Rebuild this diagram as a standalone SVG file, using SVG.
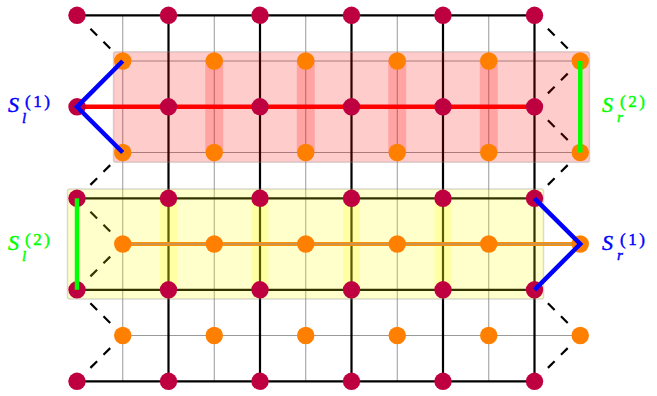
<svg xmlns="http://www.w3.org/2000/svg" width="657" height="396" viewBox="0 0 657 396">
<style>
.blk{stroke:#000;stroke-width:2.2;fill:none}
.gry{stroke:#999;stroke-width:1;fill:none}
.dsh{stroke:#000;stroke-width:2.2;stroke-dasharray:9.5 9;fill:none}
.box{stroke:#888;stroke-opacity:0.3;stroke-width:1.5}
.pink{fill:#f00;fill-opacity:0.2}
.yel{fill:#ff0;fill-opacity:0.2}
.cr{fill:#BF0040}
.or{fill:#FF8000}
.bl{fill:#00f;stroke:#00f;stroke-width:0.45}
.gr{fill:#0f0;stroke:#0f0;stroke-width:0.45}
</style>
<rect width="657" height="396" fill="#fff"/>
<g id="connectors">
<g id="grid-gray">
<path class="gry" d="M122.75 61H580.25M122.75 152.5H580.25M122.75 244H580.25M122.75 335.5H580.25"/>
<path class="gry" d="M122.75 15.3V381.3M214.25 15.3V381.3M305.75 15.3V381.3M397.25 15.3V381.3M488.75 15.3V381.3"/>
</g>
<g id="grid-black">
<path class="blk" d="M77 15.3H534.5M77 106.8H534.5M77 198.3H534.5M77 289.8H534.5M77 381.3H534.5"/>
<path class="blk" d="M168.5 15.3V381.3M260 15.3V381.3M351.5 15.3V381.3M443 15.3V381.3M534.5 15.3V381.3"/>
</g>
<g id="dashed">
<path class="dsh" d="M90.4 28.7L110.2 48.5M90.4 184.9L110.2 165.1M90.4 211.7L110.2 231.5M90.4 276.4L110.2 256.6M90.4 303.2L110.2 323M90.4 367.9L110.2 348.1"/>
<path class="dsh" d="M547.9 28.7L567.7 48.5M547.9 93.4L567.7 73.6M547.9 120.2L567.7 140M547.9 184.9L567.7 165.1M547.9 303.2L567.7 323M547.9 367.9L567.7 348.1"/>
</g>
</g>
<g id="region-top">
<rect class="pink box" x="113.5" y="51.7" width="476" height="110.5" rx="2"/>
<rect class="pink" x="205.25" y="61" width="18" height="91.5"/>
<rect class="pink" x="296.75" y="61" width="18" height="91.5"/>
<rect class="pink" x="388.25" y="61" width="18" height="91.5"/>
<rect class="pink" x="479.75" y="61" width="18" height="91.5"/>
</g>
<g id="region-bottom">
<rect class="yel box" x="67.5" y="189" width="476" height="110" rx="2"/>
<rect class="yel" x="160" y="198.3" width="17" height="91.5"/>
<rect class="yel" x="251.5" y="198.3" width="17" height="91.5"/>
<rect class="yel" x="343" y="198.3" width="17" height="91.5"/>
<rect class="yel" x="434.5" y="198.3" width="17" height="91.5"/>
</g>
<g id="paths">
<path d="M77 106.8H534.5" stroke="#f00" stroke-width="4.5" fill="none"/>
<path d="M122.75 244H580.25" stroke="#FF9000" stroke-width="4" fill="none"/>
<path class="gry" d="M122.75 244H580.25"/>
</g>
<g id="nodes-crimson" class="cr">
<circle id="c00" cx="77" cy="15.3" r="8.7"/><circle id="c10" cx="168.5" cy="15.3" r="8.7"/><circle id="c20" cx="260" cy="15.3" r="8.7"/><circle id="c30" cx="351.5" cy="15.3" r="8.7"/><circle id="c40" cx="443" cy="15.3" r="8.7"/><circle id="c50" cx="534.5" cy="15.3" r="8.7"/>
<circle id="c01" cx="77" cy="106.8" r="8.7"/><circle id="c11" cx="168.5" cy="106.8" r="8.7"/><circle id="c21" cx="260" cy="106.8" r="8.7"/><circle id="c31" cx="351.5" cy="106.8" r="8.7"/><circle id="c41" cx="443" cy="106.8" r="8.7"/><circle id="c51" cx="534.5" cy="106.8" r="8.7"/>
<circle id="c02" cx="77" cy="198.3" r="8.7"/><circle id="c12" cx="168.5" cy="198.3" r="8.7"/><circle id="c22" cx="260" cy="198.3" r="8.7"/><circle id="c32" cx="351.5" cy="198.3" r="8.7"/><circle id="c42" cx="443" cy="198.3" r="8.7"/><circle id="c52" cx="534.5" cy="198.3" r="8.7"/>
<circle id="c03" cx="77" cy="289.8" r="8.7"/><circle id="c13" cx="168.5" cy="289.8" r="8.7"/><circle id="c23" cx="260" cy="289.8" r="8.7"/><circle id="c33" cx="351.5" cy="289.8" r="8.7"/><circle id="c43" cx="443" cy="289.8" r="8.7"/><circle id="c53" cx="534.5" cy="289.8" r="8.7"/>
<circle id="c04" cx="77" cy="381.3" r="8.7"/><circle id="c14" cx="168.5" cy="381.3" r="8.7"/><circle id="c24" cx="260" cy="381.3" r="8.7"/><circle id="c34" cx="351.5" cy="381.3" r="8.7"/><circle id="c44" cx="443" cy="381.3" r="8.7"/><circle id="c54" cx="534.5" cy="381.3" r="8.7"/>
</g>
<g id="nodes-orange" class="or">
<circle id="o00" cx="122.75" cy="61" r="8.7"/><circle id="o10" cx="214.25" cy="61" r="8.7"/><circle id="o20" cx="305.75" cy="61" r="8.7"/><circle id="o30" cx="397.25" cy="61" r="8.7"/><circle id="o40" cx="488.75" cy="61" r="8.7"/><circle id="o50" cx="580.25" cy="61" r="8.7"/>
<circle id="o01" cx="122.75" cy="152.5" r="8.7"/><circle id="o11" cx="214.25" cy="152.5" r="8.7"/><circle id="o21" cx="305.75" cy="152.5" r="8.7"/><circle id="o31" cx="397.25" cy="152.5" r="8.7"/><circle id="o41" cx="488.75" cy="152.5" r="8.7"/><circle id="o51" cx="580.25" cy="152.5" r="8.7"/>
<circle id="o02" cx="122.75" cy="244" r="8.7"/><circle id="o12" cx="214.25" cy="244" r="8.7"/><circle id="o22" cx="305.75" cy="244" r="8.7"/><circle id="o32" cx="397.25" cy="244" r="8.7"/><circle id="o42" cx="488.75" cy="244" r="8.7"/><circle id="o52" cx="580.25" cy="244" r="8.7"/>
<circle id="o03" cx="122.75" cy="335.5" r="8.7"/><circle id="o13" cx="214.25" cy="335.5" r="8.7"/><circle id="o23" cx="305.75" cy="335.5" r="8.7"/><circle id="o33" cx="397.25" cy="335.5" r="8.7"/><circle id="o43" cx="488.75" cy="335.5" r="8.7"/><circle id="o53" cx="580.25" cy="335.5" r="8.7"/>
</g>
<g id="cuts" fill="none" stroke-width="4.5">
<path d="M122.75 61L77 106.8L122.75 152.5" stroke="#00f"/>
<path d="M534.5 198.3L580.25 244L534.5 289.8" stroke="#00f"/>
<path d="M580.25 61V152.5" stroke="#0f0"/>
<path d="M77 198.3V289.8" stroke="#0f0"/>
</g>
<g id="labels" font-family="'Liberation Serif', 'DejaVu Serif', serif">
<text id="Sl1-S" class="bl" x="8" y="112" font-style="italic" font-size="22">S</text>
<text id="Sl1-sub" class="bl" x="22" y="123" font-style="italic" font-size="15">l</text>
<text id="Sl1-sup" class="bl" x="25" y="107" font-size="17" textLength="25" lengthAdjust="spacing">(1)</text>
<text id="Sr2-S" class="gr" x="602" y="112" font-style="italic" font-size="22">S</text>
<text id="Sr2-sub" class="gr" x="617" y="122" font-style="italic" font-size="15">r</text>
<text id="Sr2-sup" class="gr" x="620" y="107" font-size="17" textLength="25" lengthAdjust="spacing">(2)</text>
<text id="Sl2-S" class="gr" x="8" y="250" font-style="italic" font-size="22">S</text>
<text id="Sl2-sub" class="gr" x="22" y="261" font-style="italic" font-size="15">l</text>
<text id="Sl2-sup" class="gr" x="25" y="245" font-size="17" textLength="25" lengthAdjust="spacing">(2)</text>
<text id="Sr1-S" class="bl" x="602" y="250" font-style="italic" font-size="22">S</text>
<text id="Sr1-sub" class="bl" x="617" y="260" font-style="italic" font-size="15">r</text>
<text id="Sr1-sup" class="bl" x="620" y="245" font-size="17" textLength="25" lengthAdjust="spacing">(1)</text>
</g>
</svg>
